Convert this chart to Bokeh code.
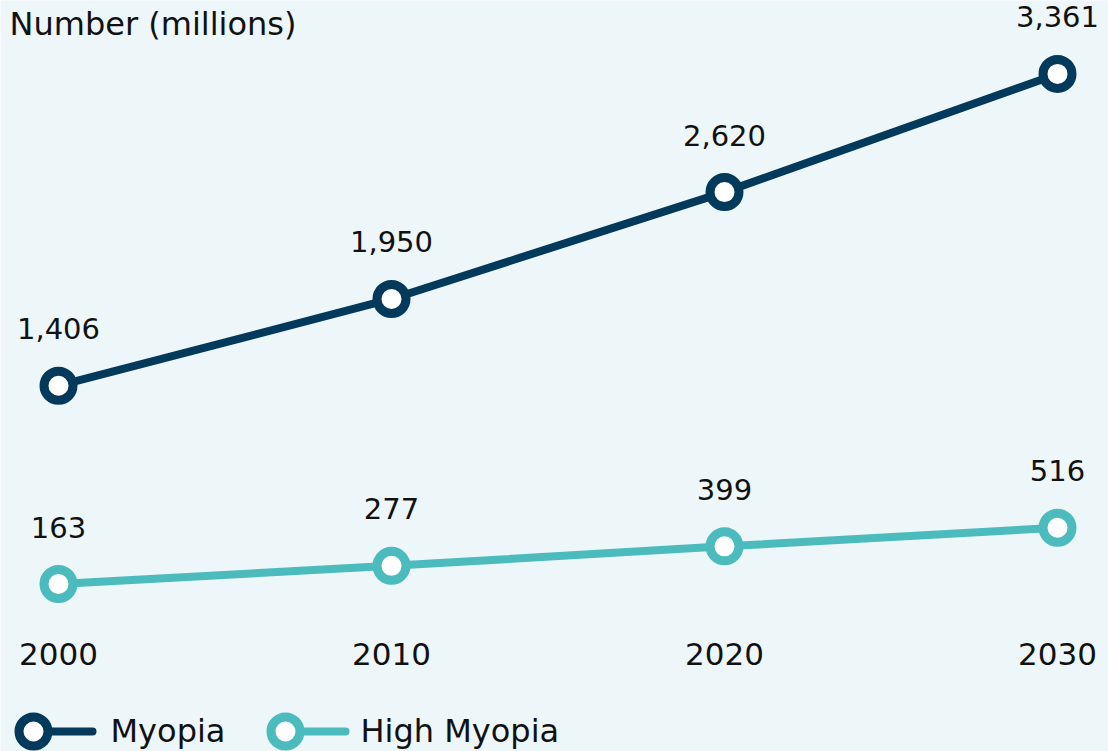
from bokeh.plotting import figure
from bokeh.models import Range1d, ColumnDataSource
from bokeh.core.properties import value
from bokeh.embed import file_html
from bokeh.resources import INLINE

# ---- data ----
years = [2000, 2010, 2020, 2030]
myopia = [1406, 1950, 2620, 3361]
high_myopia = [163, 277, 399, 516]
myopia_labels = ["1,406", "1,950", "2,620", "3,361"]
high_labels = ["163", "277", "399", "516"]
tick_labels = ["2000", "2010", "2020", "2030"]
series_names = ["Myopia", "High Myopia"]
title_text = "Number (millions)"

# ---- style / layout ----
W, H = 1108, 751
BG = "#EDF6F9"
NAVY = "#033A5C"
TEAL = "#4BBBBE"
FONT = "DejaVu Sans"
TXT = "#111111"
SHIFT = 12            # text baseline correction (px)

xs = 33.3             # px per year
ys = 0.1595           # px per million
x_start = 2000 - 58 / xs
x_end = x_start + W / xs
y_end = 609.5 / ys
y_start = y_end - H / ys

def dx(px):
    return x_start + px / xs

def dy(py):
    return y_end - py / ys

p = figure(width=W, height=H, output_backend="svg", toolbar_location=None,
           x_range=Range1d(x_start, x_end), y_range=Range1d(y_start, y_end),
           x_axis_type=None, y_axis_type=None, min_border=0)
p.grid.visible = False
p.outline_line_color = None
p.background_fill_color = BG
p.border_fill_color = BG

for vals, labels, color in [(myopia, myopia_labels, NAVY), (high_myopia, high_labels, TEAL)]:
    src = ColumnDataSource(dict(x=years, y=vals, t=labels))
    p.line("x", "y", source=src, line_color=color, line_width=8)
    p.scatter("x", "y", source=src, size=29, marker="circle", line_color=color,
              line_width=9, fill_color="white")
    p.text("x", "y", text="t", source=src, text_align="center",
           text_baseline="alphabetic", y_offset=-45 - SHIFT, text_font=value(FONT),
           text_font_size="29px", text_color=TXT)

# tick labels
p.text(x=years, y=[dy(665 - SHIFT)] * 4, text=tick_labels, text_align="center",
       text_baseline="alphabetic", text_font=value(FONT), text_font_size="31px",
       text_color=TXT)

# title
p.text(x=[dx(9)], y=[dy(35 - SHIFT)], text=[title_text], text_align="left",
       text_baseline="alphabetic", text_font=value(FONT), text_font_size="32px",
       text_color=TXT)

# legend (manual)
for (cx, lx_end, tx), name, color in zip([(33, 92, 110), (285, 345, 360)], series_names, [NAVY, TEAL]):
    p.line([dx(cx), dx(lx_end)], [dy(731), dy(731)], line_color=color, line_width=8,
           line_cap="round")
    p.scatter([dx(cx)], [dy(731)], size=29, marker="circle", line_color=color,
              line_width=9, fill_color="white")
    p.text(x=[dx(tx)], y=[dy(742 - SHIFT)], text=[name], text_align="left",
           text_baseline="alphabetic", text_font=value(FONT), text_font_size="32px",
           text_color=TXT)

open("out.html", "w").write(file_html(p, INLINE))
